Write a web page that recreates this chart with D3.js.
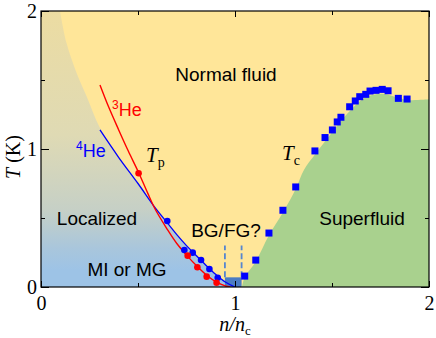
<!DOCTYPE html>
<html>
<head>
<meta charset="utf-8">
<script src="https://cdn.jsdelivr.net/npm/d3@7"></script>
<style>
  body { margin: 0; background: #fff; }
  .serif { font-family: "Liberation Serif", "DejaVu Serif", serif; }
  .sans { font-family: "Liberation Sans", Arial, sans-serif; }
</style>
</head>
<body>
<div id="chart"></div>
<script>
// T_c of 4He superfluid (blue squares)
var tcN = [1.050, 1.107, 1.175, 1.247, 1.313, 1.412, 1.464, 1.502, 1.527, 1.546, 1.591, 1.620, 1.643, 1.674, 1.696, 1.727, 1.759, 1.789, 1.842, 1.887];
var tcT = [0.079, 0.195, 0.391, 0.556, 0.725, 0.986, 1.083, 1.138, 1.196, 1.230, 1.306, 1.348, 1.379, 1.396, 1.420, 1.425, 1.432, 1.422, 1.367, 1.362];

// T_p points, 3He (red) and 4He (blue)
var tp3N = [0.503, 0.756, 0.806, 0.854, 0.905];
var tp3T = [0.824, 0.227, 0.143, 0.075, 0.031];
var tp4N = [0.651, 0.739, 0.782, 0.825, 0.868, 0.911];
var tp4T = [0.478, 0.268, 0.249, 0.196, 0.130, 0.067];

// fitted T_p lines
var fit3N = [0.304, 0.35, 0.40, 0.45, 0.503, 0.55, 0.588, 0.65, 0.70, 0.756, 0.806, 0.854, 0.905, 0.95, 0.975];
var fit3T = [1.464, 1.30, 1.14, 0.985, 0.83, 0.68, 0.565, 0.42, 0.315, 0.222, 0.148, 0.085, 0.035, 0.008, 0.0];
var fit4N = [0.304, 0.40, 0.50, 0.588, 0.651, 0.70, 0.75, 0.80, 0.85, 0.90, 0.95, 1.0];
var fit4T = [1.138, 0.94, 0.75, 0.575, 0.465, 0.38, 0.30, 0.228, 0.158, 0.092, 0.036, 0.0];

// upper edge of the localized region (joins the 4He line)
var locN = [0.098, 0.132, 0.184, 0.236, 0.304];
var locT = [2.0, 1.766, 1.549, 1.379, 1.152];

// edge of the superfluid region
var sfN = [1.036, 1.05, 1.107, 1.175, 1.247, 1.313, 1.356, 1.412, 1.50, 1.582, 1.668, 1.754, 1.823, 1.892, 2.0];
var sfT = [0.0, 0.07, 0.185, 0.375, 0.54, 0.71, 0.85, 0.96, 1.12, 1.26, 1.37, 1.40, 1.379, 1.355, 1.36];

// BG/FG? window
var bgN = [0.948, 1.034];
var bgT = 0.07;
var bgDashTop = 0.30;

var xMajor = [0, 1, 2], xMinor = [0.5, 1.5];
var yMajor = [0, 1, 2], yMinor = [0.5, 1.5];

var svgWidth = 436, svgHeight = 338;
var margin = {top: 11, right: 7, bottom: 51, left: 41};
var width = svgWidth - margin.left - margin.right;
var height = svgHeight - margin.top - margin.bottom;

var svg = d3.select("#chart").append("svg")
  .attr("width", svgWidth)
  .attr("height", svgHeight);

var defs = svg.append("defs");
defs.append("clipPath").attr("id", "plotclip")
  .append("rect").attr("width", width).attr("height", height);

var grad = defs.append("linearGradient").attr("id", "locgrad")
  .attr("x1", 0).attr("y1", 0).attr("x2", 0).attr("y2", 1);
[[0, "#ecdca2"], [0.45, "#dfdab4"], [0.72, "#c6d0c6"], [0.86, "#a9c6dc"], [0.94, "#9dc3e6"], [1, "#9dc3e6"]].forEach(function(s) {
  grad.append("stop").attr("offset", s[0]).attr("stop-color", s[1]);
});

var chartGroup = svg.append("g")
  .attr("transform", `translate(${margin.left}, ${margin.top})`);

var x = d3.scaleLinear().domain([0, 2]).range([0, width]);
var y = d3.scaleLinear().domain([0, 2]).range([height, 0]);

var plot = chartGroup.append("g").attr("clip-path", "url(#plotclip)");

// normal fluid background
plot.append("rect").attr("width", width).attr("height", height).attr("fill", "#ffe699");

// localized region
var locPts = d3.zip(locN, locT).concat(d3.zip(fit4N, fit4T).slice(1));
var curve = d3.line().x(d => x(d[0])).y(d => y(d[1])).curve(d3.curveCatmullRom);
plot.append("path")
  .attr("d", curve(locPts) + `L${x(0)},${y(0)}L${x(0)},${y(2)}Z`)
  .attr("fill", "url(#locgrad)");

// superfluid region
plot.append("path")
  .attr("d", curve(d3.zip(sfN, sfT)) + `L${x(2)},${y(0)}Z`)
  .attr("fill", "#a9d18e");

// BG/FG? window
plot.append("rect")
  .attr("x", x(bgN[0])).attr("y", y(bgT))
  .attr("width", x(bgN[1]) - x(bgN[0]))
  .attr("height", y(0) - y(bgT))
  .attr("fill", "#4b7cc4");
bgN.forEach(function(n) {
  plot.append("line")
    .attr("x1", x(n)).attr("x2", x(n))
    .attr("y1", y(bgT)).attr("y2", y(bgDashTop))
    .attr("stroke", "#5586d0").attr("stroke-width", 1.8)
    .attr("stroke-dasharray", "6,3");
});

// T_p fit lines
plot.append("path").attr("d", curve(d3.zip(fit4N, fit4T)))
  .attr("fill", "none").attr("stroke", "#0000ff").attr("stroke-width", 1.3);
plot.append("path").attr("d", curve(d3.zip(fit3N, fit3T)))
  .attr("fill", "none").attr("stroke", "#ff0000").attr("stroke-width", 1.4);

plot.selectAll("circle.tp4").data(d3.zip(tp4N, tp4T)).enter().append("circle")
  .attr("class", "tp4")
  .attr("cx", d => x(d[0])).attr("cy", d => y(d[1])).attr("r", 3.3)
  .attr("fill", "#0000ff");
plot.selectAll("circle.tp3").data(d3.zip(tp3N, tp3T)).enter().append("circle")
  .attr("class", "tp3")
  .attr("cx", d => x(d[0])).attr("cy", d => y(d[1])).attr("r", 3.3)
  .attr("fill", "#ff0000");

// T_c squares
plot.selectAll("rect.tc").data(d3.zip(tcN, tcT)).enter().append("rect")
  .attr("class", "tc")
  .attr("x", d => x(d[0]) - 3.5).attr("y", d => y(d[1]) - 3.5)
  .attr("width", 7).attr("height", 7)
  .attr("fill", "#0000ff");

// axes, ticks inward on all four sides
function addAxis(axisFn, scale, vals, size, labels, transform, pad) {
  var g = chartGroup.append("g")
    .attr("transform", transform)
    .attr("class", "serif")
    .call(axisFn(scale).tickValues(vals).tickSize(-size).tickPadding(pad)
      .tickFormat(labels ? d3.format("d") : ""));
  g.select(".domain").remove();
  g.selectAll(".tick line").attr("stroke", "#000").attr("stroke-width", 1);
  g.selectAll("text").attr("font-size", 20).attr("fill", "#000")
    .attr("font-family", "Liberation Serif, serif");
  return g;
}
addAxis(d3.axisBottom, x, xMajor, 6, true, `translate(0,${height})`, 9);
addAxis(d3.axisBottom, x, xMinor, 4, false, `translate(0,${height})`, 9);
addAxis(d3.axisTop, x, xMajor, 6, false, "translate(0,0)", 3);
addAxis(d3.axisTop, x, xMinor, 4, false, "translate(0,0)", 3);
addAxis(d3.axisLeft, y, yMajor, 8, true, "translate(0,0)", 4);
addAxis(d3.axisLeft, y, yMinor, 4, false, "translate(0,0)", 4);
addAxis(d3.axisRight, y, yMajor, 8, false, `translate(${width},0)`, 3);
addAxis(d3.axisRight, y, yMinor, 4, false, `translate(${width},0)`, 3);

chartGroup.append("rect")
  .attr("width", width).attr("height", height)
  .attr("fill", "none").attr("stroke", "#000").attr("stroke-width", 1.2);

// axis titles
var xt = svg.append("text").attr("class", "serif")
  .attr("x", 235).attr("y", 331).attr("text-anchor", "middle")
  .attr("font-size", 20);
xt.append("tspan").attr("font-style", "italic").text("n/n");
xt.append("tspan").attr("font-size", 13).attr("dy", 4).text("c");

var yt = svg.append("text").attr("class", "serif")
  .attr("transform", "translate(20,157) rotate(-90)")
  .attr("text-anchor", "middle").attr("font-size", 20);
yt.append("tspan").attr("font-style", "italic").text("T");
yt.append("tspan").text(" (K)");

// region labels
var labels = [
  {t: "Normal fluid", x: 226, y: 81},
  {t: "Localized", x: 97, y: 225},
  {t: "MI or MG", x: 127, y: 276},
  {t: "BG/FG?", x: 226, y: 237},
  {t: "Superfluid", x: 362, y: 225}
];
svg.selectAll("text.region").data(labels).enter().append("text")
  .attr("class", "region sans")
  .attr("x", d => d.x).attr("y", d => d.y)
  .attr("text-anchor", "middle")
  .attr("font-size", 19).attr("fill", "#000")
  .text(d => d.t);

// isotope labels
var he3 = svg.append("text").attr("class", "sans")
  .attr("x", 112).attr("y", 116).attr("fill", "#ff0000").attr("font-size", 18);
he3.append("tspan").attr("font-size", 12).attr("dy", -7).text("3");
he3.append("tspan").attr("dy", 7).text("He");

var he4 = svg.append("text").attr("class", "sans")
  .attr("x", 76).attr("y", 157).attr("fill", "#0000ff").attr("font-size", 18);
he4.append("tspan").attr("font-size", 12).attr("dy", -7).text("4");
he4.append("tspan").attr("dy", 7).text("He");

// T_p and T_c labels
function tLabel(sub, px, py) {
  var t = svg.append("text").attr("class", "serif")
    .attr("x", px).attr("y", py).attr("font-size", 21);
  t.append("tspan").attr("font-style", "italic").text("T");
  t.append("tspan").attr("font-size", 14).attr("dy", 5).text(sub);
}
tLabel("p", 146, 162);
tLabel("c", 282, 160);
</script>
</body>
</html>
